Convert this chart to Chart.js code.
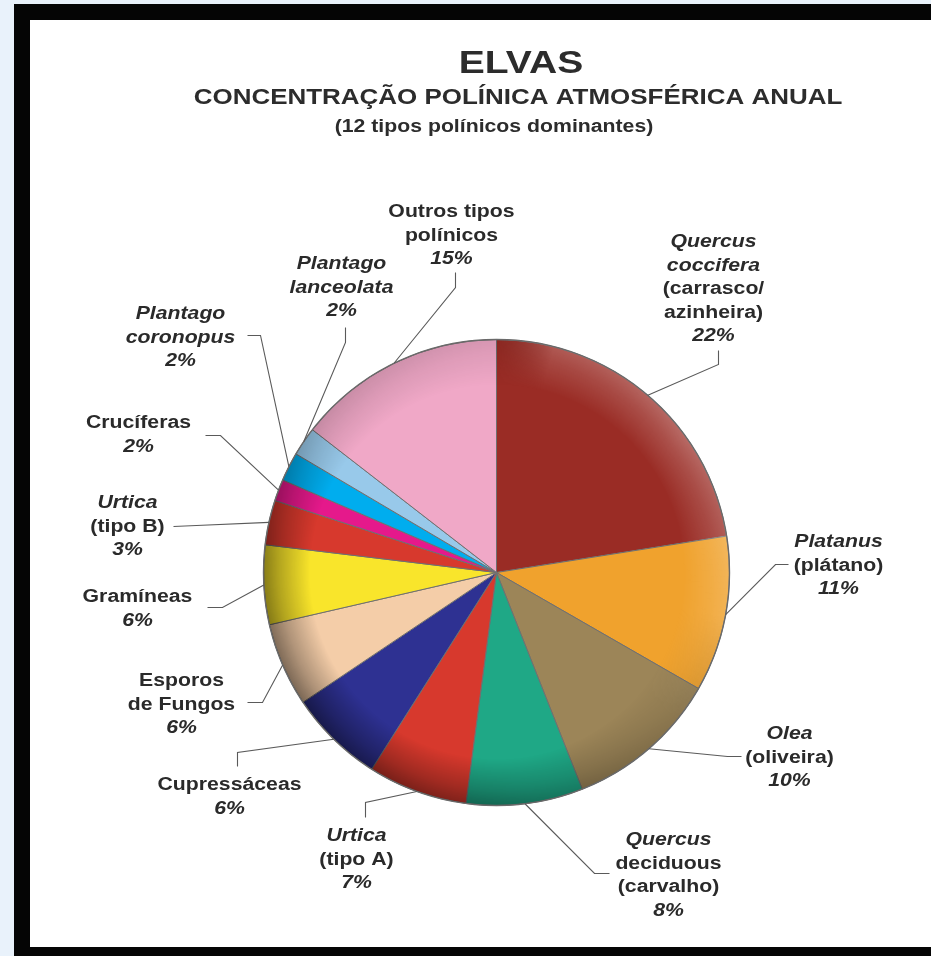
<!DOCTYPE html>
<html>
<head>
<meta charset="utf-8">
<script src="https://cdn.jsdelivr.net/npm/chart.js@4.4.1/dist/chart.umd.min.js"></script>
<style>
  html, body { margin: 0; padding: 0; width: 931px; height: 956px; overflow: hidden; background: #e9f2fb; }
  #frame { position: absolute; left: 14px; top: 4px; width: 1000px; height: 1000px; background: #050505; }
  #paper { position: absolute; left: 30px; top: 20px; width: 1000px; height: 927px; background: #ffffff; }
  #c { position: absolute; left: 30px; top: 20px; }
</style>
</head>
<body>
<div id="frame"></div>
<div id="paper"></div>
<canvas id="c" width="901" height="927"></canvas>
<script>
// ---- data ----
const titleText = 'ELVAS';
const subtitleText = 'CONCENTRAÇÃO POLÍNICA ATMOSFÉRICA ANUAL';
const subsubtitleText = '(12 tipos polínicos dominantes)';

const categories = [
  'Quercus coccifera (carrasco/azinheira)', 'Platanus (plátano)', 'Olea (oliveira)',
  'Quercus deciduous (carvalho)', 'Urtica (tipo A)', 'Cupressáceas', 'Esporos de Fungos',
  'Gramíneas', 'Urtica (tipo B)', 'Crucíferas', 'Plantago coronopus', 'Plantago lanceolata',
  'Outros tipos polínicos'
];
const values = [22.5, 10.8, 10.7, 8.1, 6.9, 6.6, 5.8, 5.5, 3.1, 1.5, 2.0, 2.0, 14.5];
const percentLabels = ['22%', '11%', '10%', '8%', '7%', '6%', '6%', '6%', '3%', '2%', '2%', '2%', '15%'];
// label text lines: [text, italic]
const labelLines = [
  [['Quercus', 1], ['coccifera', 1], ['(carrasco/', 0], ['azinheira)', 0]],
  [['Platanus', 1], ['(plátano)', 0]],
  [['Olea', 1], ['(oliveira)', 0]],
  [['Quercus', 1], ['deciduous', 0], ['(carvalho)', 0]],
  [['Urtica', 1], ['(tipo A)', 0]],
  [['Cupressáceas', 0]],
  [['Esporos', 0], ['de Fungos', 0]],
  [['Gramíneas', 0]],
  [['Urtica', 1], ['(tipo B)', 0]],
  [['Crucíferas', 0]],
  [['Plantago', 1], ['coronopus', 1]],
  [['Plantago', 1], ['lanceolata', 1]],
  [['Outros tipos', 0], ['polínicos', 0]]
];

// ---- styles ----
const sliceColors = [
  '#9a2c25', '#f0a22d', '#9c8558', '#1fa886', '#d7392d', '#2e3192', '#f4cda8',
  '#f9e52b', '#d7392d', '#e5198b', '#00adee', '#98c9ea', '#f0a8c7'
];
// label placement relative to pie centre: text centre x, first line y, leader elbow, leader end
const labelLayout = [
  { x: 217, y: -330, elbow: [222, -208], end: [222, -222] },
  { x: 342, y: -30, elbow: [279, -8], end: [292, -8] },
  { x: 293, y: 162, elbow: [231, 184], end: [245, 184] },
  { x: 172, y: 268, elbow: [98, 301], end: [113, 301] },
  { x: -140, y: 264, elbow: [-131, 230], end: [-131, 245] },
  { x: -267, y: 213, elbow: [-259, 180], end: [-259, 194] },
  { x: -315, y: 109, elbow: [-234, 130], end: [-249, 130] },
  { x: -359, y: 25, elbow: [-274, 35], end: [-289, 35] },
  { x: -369, y: -69, elbow: [-300, -47], end: [-323, -46] },
  { x: -358, y: -149, elbow: [-276, -137], end: [-291, -137] },
  { x: -316, y: -258, elbow: [-236, -237], end: [-249, -237] },
  { x: -155, y: -308, elbow: [-151, -230], end: [-151, -245] },
  { x: -45, y: -360, elbow: [-41, -285], end: [-41, -300] }
];
const LINE_H = 23.5;
const SX = 1.18;
const textColor = '#2a2a2a';

function drawScaled(ctx, text, x, y, font, sx) {
  ctx.save();
  ctx.font = font;
  ctx.translate(x, y);
  ctx.scale(sx, 1);
  ctx.fillText(text, 0, 0);
  ctx.restore();
}

const titlePlugin = {
  id: 'titles',
  afterDraw(chart) {
    const ctx = chart.ctx;
    ctx.save();
    ctx.fillStyle = '#2c2c2c';
    ctx.textAlign = 'center';
    ctx.textBaseline = 'middle';
    drawScaled(ctx, titleText, 491, 44, 'bold 32px "Liberation Sans", Arial, sans-serif', 1.22);
    drawScaled(ctx, subtitleText, 488, 78, 'bold 22px "Liberation Sans", Arial, sans-serif', 1.18);
    drawScaled(ctx, subsubtitleText, 464, 107.5, 'bold 18px "Liberation Sans", Arial, sans-serif', 1.18);
    ctx.restore();
  }
};

const shadePlugin = {
  id: 'shade',
  afterDatasetsDraw(chart) {
    const meta = chart.getDatasetMeta(0);
    if (!meta.data.length) return;
    const el = meta.data[0];
    const cx = el.x, cy = el.y, R = el.outerRadius;
    const size = Math.ceil(R * 2 + 4);
    const off = document.createElement('canvas');
    off.width = size; off.height = size;
    const o = off.getContext('2d');
    const ox = size / 2, oy = size / 2;
    const cg = o.createConicGradient(-Math.PI / 2, ox, oy);
    cg.addColorStop(0.00, 'rgba(0,0,0,0.10)');
    cg.addColorStop(0.04, 'rgba(255,255,255,0.22)');
    cg.addColorStop(0.15, 'rgba(255,255,255,0.30)');
    cg.addColorStop(0.28, 'rgba(255,255,255,0.18)');
    cg.addColorStop(0.36, 'rgba(0,0,0,0.12)');
    cg.addColorStop(0.50, 'rgba(0,0,0,0.38)');
    cg.addColorStop(0.65, 'rgba(0,0,0,0.50)');
    cg.addColorStop(0.76, 'rgba(0,0,0,0.45)');
    cg.addColorStop(0.86, 'rgba(0,0,0,0.18)');
    cg.addColorStop(1.00, 'rgba(0,0,0,0.10)');
    o.fillStyle = cg;
    o.fillRect(0, 0, size, size);
    o.globalCompositeOperation = 'destination-in';
    const rg = o.createRadialGradient(ox, oy, 0, ox, oy, R);
    rg.addColorStop(0, 'rgba(0,0,0,0)');
    rg.addColorStop(0.80, 'rgba(0,0,0,0)');
    rg.addColorStop(0.93, 'rgba(0,0,0,0.6)');
    rg.addColorStop(1, 'rgba(0,0,0,1)');
    o.fillStyle = rg;
    o.fillRect(0, 0, size, size);
    const ctx = chart.ctx;
    ctx.save();
    ctx.beginPath();
    ctx.arc(cx, cy, R, 0, Math.PI * 2);
    ctx.clip();
    ctx.drawImage(off, cx - size / 2, cy - size / 2);
    ctx.restore();
    ctx.save();
    ctx.beginPath();
    ctx.arc(cx, cy, R, 0, Math.PI * 2);
    ctx.strokeStyle = '#6a6a6a';
    ctx.lineWidth = 1.4;
    ctx.stroke();
    ctx.restore();
  }
};

const labelPlugin = {
  id: 'sliceLabels',
  afterDraw(chart) {
    const meta = chart.getDatasetMeta(0);
    const ctx = chart.ctx;
    ctx.save();
    meta.data.forEach((arc, i) => {
      const p = arc.getProps(['x', 'y', 'startAngle', 'endAngle', 'outerRadius'], true);
      const mid = (p.startAngle + p.endAngle) / 2;
      const sx = p.x + Math.cos(mid) * p.outerRadius;
      const sy = p.y + Math.sin(mid) * p.outerRadius;
      const L = labelLayout[i];
      ctx.beginPath();
      ctx.moveTo(sx, sy);
      ctx.lineTo(p.x + L.elbow[0], p.y + L.elbow[1]);
      ctx.lineTo(p.x + L.end[0], p.y + L.end[1]);
      ctx.strokeStyle = '#5a5a5a';
      ctx.lineWidth = 1.1;
      ctx.stroke();
      const lines = labelLines[i].concat([[percentLabels[i], 1]]);
      ctx.fillStyle = textColor;
      ctx.textAlign = 'center';
      ctx.textBaseline = 'middle';
      lines.forEach((ln, k) => {
        const font = (ln[1] ? 'italic ' : '') + 'bold 18px "Liberation Sans", Arial, sans-serif';
        drawScaled(ctx, ln[0], p.x + L.x, p.y + L.y + k * LINE_H, font, SX);
      });
    });
    ctx.restore();
  }
};

new Chart(document.getElementById('c'), {
  type: 'pie',
  data: {
    labels: categories,
    datasets: [{
      data: values,
      backgroundColor: sliceColors,
      borderColor: '#6f6f6f',
      borderWidth: 1,
      hoverOffset: 0,
      offset: 0
    }]
  },
  options: {
    responsive: false,
    animation: false,
    events: [],
    layout: { padding: { left: 233, top: 319, right: 201, bottom: 141 } },
    plugins: {
      legend: { display: false },
      tooltip: { enabled: false },
      title: { display: false }
    }
  },
  plugins: [shadePlugin, labelPlugin, titlePlugin]
});
</script>
</body>
</html>
